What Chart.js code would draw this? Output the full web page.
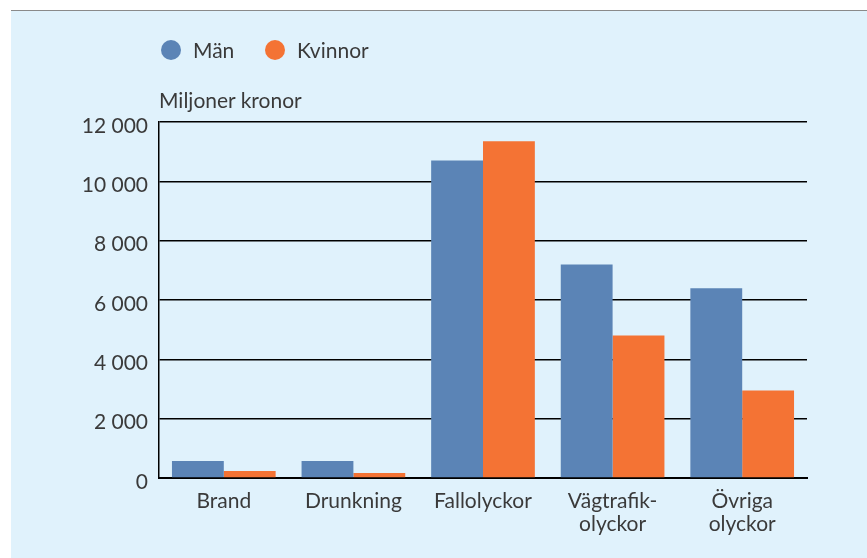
<!DOCTYPE html>
<html>
<head>
<meta charset="utf-8">
<script src="https://cdn.jsdelivr.net/npm/chart.js@4"></script>
<style>
    body { margin: 0; background: #fff; font-family: Lato, "Open Sans", sans-serif; color: #3a3a3a; }
    #wrap { position: absolute; left: 11px; top: 10px; width: 856px; height: 547px; background: #e0f2fc; border-top: 1px solid #8a8a8a; }
    #chart { position: absolute; left: 0; top: 0; }
    .legend { position: absolute; top: 29px; font-size: 21px; line-height: 20px; }
    .dot { position: absolute; width: 20px; height: 20px; border-radius: 50%; }
    .unit { position: absolute; left: 148px; top: 76px; font-size: 21px; }
</style>
</head>
<body>
<div id="wrap">
    <canvas id="chart" width="856" height="547"></canvas>
    <div id="legend"></div>
    <div class="unit">Miljoner kronor</div>
</div>
<script>
// data
const categories = [['Brand'], ['Drunkning'], ['Fallolyckor'], ['Vägtrafik-', 'olyckor'], ['Övriga', 'olyckor']];
const man = [570, 570, 10700, 7200, 6400];
const kvinnor = [240, 170, 11350, 4800, 2950];
const seriesNames = ['Män', 'Kvinnor'];
const seriesColors = ['#5b84b6', '#f47334'];

// legend
const legend = document.getElementById('legend');
const legendX = [150, 254];
seriesNames.forEach((name, i) => {
    const item = document.createElement('div');
    item.className = 'legend';
    item.style.left = legendX[i] + 'px';
    item.innerHTML = '<span class="dot" style="background:' + seriesColors[i] + '"></span>' +
        '<span style="margin-left:32px">' + name + '</span>';
    legend.appendChild(item);
});

function fmt(v) {
    return String(v).replace(/\B(?=(\d{3})+(?!\d))/g, ' ');
}

const ctx = document.getElementById('chart').getContext('2d');
new Chart(ctx, {
    type: 'bar',
    data: {
        labels: categories,
        datasets: [
            { label: seriesNames[0], data: man, backgroundColor: seriesColors[0] },
            { label: seriesNames[1], data: kvinnor, backgroundColor: seriesColors[1] }
        ]
    },
    options: {
        responsive: false,
        animation: false,
        layout: { padding: { top: 111, right: 60, left: 0, bottom: 0 } },
        datasets: { bar: { categoryPercentage: 0.8, barPercentage: 1.0 } },
        plugins: {
            legend: { display: false },
            tooltip: { enabled: false }
        },
        scales: {
            x: {
                grid: { display: false },
                border: { display: true, color: '#000', width: 2 },
                ticks: {
                    color: '#3a3a3a',
                    padding: 3,
                    font: { family: 'Lato', size: 21, lineHeight: 1.12 },
                    maxRotation: 0
                },
                afterFit: function(scale) { scale.height = 80; }
            },
            y: {
                min: 0,
                max: 12000,
                ticks: {
                    stepSize: 2000,
                    color: '#3a3a3a',
                    padding: 11,
                    labelOffset: 4,
                    font: { family: 'Lato', size: 21 },
                    callback: function(v) { return fmt(v); }
                },
                grid: { color: '#000', lineWidth: 1.5, drawTicks: false },
                border: { display: true, color: '#000', width: 1.5 },
                afterFit: function(scale) { scale.width = 148; }
            }
        }
    }
});
</script>
</body>
</html>
